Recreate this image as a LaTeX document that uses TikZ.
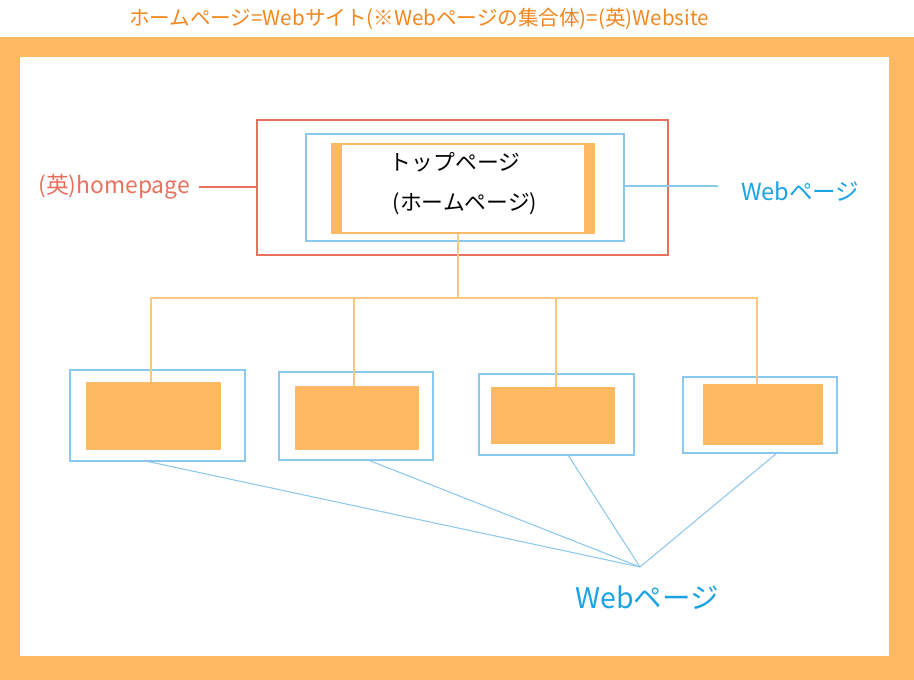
\documentclass[tikz,border=0pt]{standalone}
\usepackage{fontspec}
\setmainfont{Noto Sans CJK JP}
\definecolor{frameorange}{HTML}{FFB962}
\definecolor{titleorange}{HTML}{F2861F}
\definecolor{lineorange}{HTML}{FFC878}
\definecolor{pagered}{HTML}{E8705C}
\definecolor{boxblue}{HTML}{8CC8EE}
\definecolor{textblue}{HTML}{1BA3E6}
\usetikzlibrary{calc}

\begin{document}
\begin{tikzpicture}
 [x=0.02cm, y=-0.02cm, line width=0.8pt,
  every node/.style={inner sep=0pt, outer sep=0pt},
  webbox/.style={draw=boxblue, minimum width=#1},
  pagefill/.style={fill=frameorange, minimum width=#1},
  tree/.style={draw=lineorange, line width=0.8pt},
  link/.style={draw=boxblue, line width=0.6pt}]

  \useasboundingbox (0,0) rectangle (914,680);
  % frame
  \fill[frameorange] (0,37) rectangle (914,680);
  \fill[white] (20,57) rectangle (889,656);

  \node[text=titleorange, font=\fontsize{11.7}{13}\selectfont] (title) at (419,19)
    {ホームページ=Webサイト(※Webページの集合体)=(英)Website};

  % top page
  \node[draw=pagered, minimum width=8.22cm, minimum height=2.7cm] (home) at (462.5,187.5) {};
  \node[webbox=6.36cm, minimum height=2.14cm] (topweb) at (465,187.5) {};
  \node[pagefill=5.28cm, minimum height=1.82cm] (top) at (463,188.5) {};
  \node[fill=white, minimum width=4.84cm, minimum height=1.74cm] (topin) at (463,188.5) {};
  \node[font=\fontsize{12.4}{14}\selectfont] (toptext) at (455,162) {トップページ};
  \node[font=\fontsize{12.4}{14}\selectfont] (hometext) at (465,204) {(ホームページ)};

  \node[text=pagered, font=\fontsize{13}{15}\selectfont, anchor=east] (homelabel) at (190,187) {(英)homepage};
  \draw[pagered] ([xshift=0.18cm]homelabel.east) -- (home.west |- homelabel.east);

  \node[text=textblue, font=\fontsize{13.4}{15}\selectfont, anchor=west] (weblabel) at (741,192) {Webページ};
  \coordinate (webend) at (718,186);
  \draw[boxblue] (topweb.east |- webend) -- (webend);

  % lower pages
  \foreach \n/\x/\y/\w/\h/\ox/\oy/\ow/\oh in
      {1/157.5/415.5/3.5/1.82/153.5/416/2.7/1.36,
       2/356/416/3.08/1.76/357/418/2.48/1.28,
       3/556.5/414.5/3.1/1.62/553/415.5/2.48/1.14,
       4/760/415/3.08/1.52/763/414.5/2.4/1.22}
  {
    \node[webbox=\w cm, minimum height=\h cm] (web\n) at (\x,\y) {};
    \node[pagefill=\ow cm, minimum height=\oh cm] (page\n) at (\ox,\oy) {};
  }

  \coordinate (hub) at (458,298);
  \draw[tree] (hub |- top.south) -- (hub);
  \foreach \n/\dx in {1/-2.5,2/-3,3/3,4/-6}
    \draw[tree] (hub) -| ([xshift=\dx*0.02cm]page\n.north);

  \node[text=textblue, font=\fontsize{16.2}{18}\selectfont] (pagelabel) at (647,598) {Webページ};
  \coordinate (meet) at (640,567);
  \foreach \n/\dx in {1/-12,2/12,3/11.5,4/17}
    \draw[link] ([xshift=\dx*0.02cm]web\n.south) -- (meet);
\end{tikzpicture}
\end{document}
